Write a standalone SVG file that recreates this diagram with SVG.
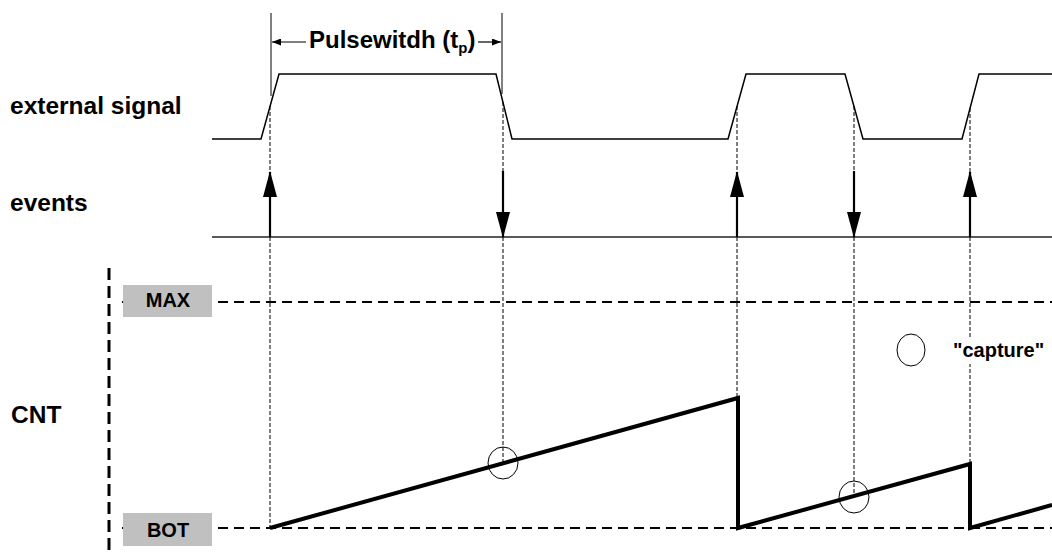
<svg xmlns="http://www.w3.org/2000/svg" width="1052" height="553" viewBox="0 0 1052 553">
<style>
.lbl{font-family:"Liberation Sans",Arial,sans-serif;font-weight:bold;fill:#000}
.sig{fill:none;stroke:#000;stroke-width:1.5}
.guide{fill:none;stroke:#000;stroke-width:1;stroke-dasharray:4,2}
.lvl{fill:none;stroke:#000;stroke-width:2;stroke-dasharray:10,6}
.ev{fill:none;stroke:#000;stroke-width:2.2}
.cnt{fill:none;stroke:#000;stroke-width:4;stroke-linejoin:miter}
.cap{fill:none;stroke:#000;stroke-width:1}
.box{fill:#c0c0c0}
</style>
<defs>
<marker id="ah" markerWidth="26" markerHeight="14" refX="25" refY="7" orient="auto" markerUnits="userSpaceOnUse" viewBox="0 0 26 14">
<path d="M0,0 L26,7 L0,14 Z" fill="#000"/>
</marker>
<marker id="sa" markerWidth="9" markerHeight="7" refX="9" refY="3.5" orient="auto" markerUnits="userSpaceOnUse" viewBox="0 0 9 7">
<path d="M0,0 L9,3.5 L0,7 Z" fill="#000"/>
</marker>
</defs>
<rect width="1052" height="553" fill="#fff"/>

<g id="labels">
<text class="lbl" x="10" y="114" font-size="24.5">external signal</text>
<text class="lbl" x="10" y="211" font-size="24.5">events</text>
<text class="lbl" x="11" y="423" font-size="24.5">CNT</text>
</g>

<g id="pulsewidth">
<line x1="271" y1="13" x2="271" y2="96" stroke="#000" stroke-width="1"/>
<line x1="502" y1="13" x2="502" y2="94" stroke="#000" stroke-width="1"/>
<line x1="306" y1="42" x2="272" y2="42" stroke="#000" stroke-width="1.2" marker-end="url(#sa)"/>
<line x1="478" y1="42" x2="501" y2="42" stroke="#000" stroke-width="1.2" marker-end="url(#sa)"/>
<text class="lbl" x="309" y="48" font-size="24">Pulsewitdh (t<tspan font-size="15" dy="5">p</tspan><tspan dy="-5">)</tspan></text>
</g>

<g id="external-signal">
<path class="sig" d="M212,139 L261,139 L279,74 L496,74 L512,139 L728,139 L746,74 L845,74 L863,139 L962,139 L979,74 L1052,74"/>
</g>

<g id="events-axis">
<line x1="212" y1="237" x2="1052" y2="237" stroke="#222" stroke-width="1.5"/>
</g>

<g id="connectors">
<line class="guide" x1="270" y1="106" x2="270" y2="174"/>
<line class="guide" x1="270" y1="237" x2="270" y2="528"/>
<line class="guide" x1="503" y1="102" x2="503" y2="171"/>
<line class="guide" x1="503" y1="237" x2="503" y2="463"/>
<line class="guide" x1="737" y1="106" x2="737" y2="174"/>
<line class="guide" x1="737" y1="237" x2="737" y2="398"/>
<line class="guide" x1="854" y1="106" x2="854" y2="171"/>
<line class="guide" x1="854" y1="237" x2="854" y2="497"/>
<line class="guide" x1="970" y1="108" x2="970" y2="174"/>
<line class="guide" x1="970" y1="237" x2="970" y2="464"/>
<line class="ev" x1="270" y1="237" x2="270" y2="172" marker-end="url(#ah)"/>
<line class="ev" x1="737" y1="237" x2="737" y2="172" marker-end="url(#ah)"/>
<line class="ev" x1="970" y1="237" x2="970" y2="172" marker-end="url(#ah)"/>
<line class="ev" x1="503" y1="171" x2="503" y2="237" marker-end="url(#ah)"/>
<line class="ev" x1="854" y1="171" x2="854" y2="237" marker-end="url(#ah)"/>
</g>

<g id="cnt-axis">
<line x1="109" y1="268" x2="109" y2="553" stroke="#000" stroke-width="3" stroke-dasharray="12,6"/>
<line class="lvl" x1="122" y1="302" x2="1052" y2="302"/>
<line class="lvl" x1="122" y1="528" x2="1052" y2="528"/>
</g>

<g id="max">
<rect class="box" x="123" y="285" width="89" height="32"/>
<text class="lbl" x="168" y="307" font-size="20" text-anchor="middle">MAX</text>
</g>
<g id="bot">
<rect class="box" x="123" y="513" width="89" height="33"/>
<text class="lbl" x="168" y="536.5" font-size="20" text-anchor="middle">BOT</text>
</g>

<g id="counter">
<path class="cnt" d="M270,528 L738,398 L738,528 L970,464 L970,528 L1052,505"/>
</g>

<g id="captures">
<ellipse class="cap" cx="503" cy="463" rx="15" ry="16"/>
<ellipse class="cap" cx="854" cy="497" rx="15" ry="16"/>
</g>

<g id="legend">
<ellipse class="cap" cx="911" cy="350" rx="14" ry="16"/>
<rect x="950" y="338" width="98" height="26" fill="#fff"/>
<text class="lbl" x="953" y="357" font-size="20">"capture"</text>
</g>
</svg>
